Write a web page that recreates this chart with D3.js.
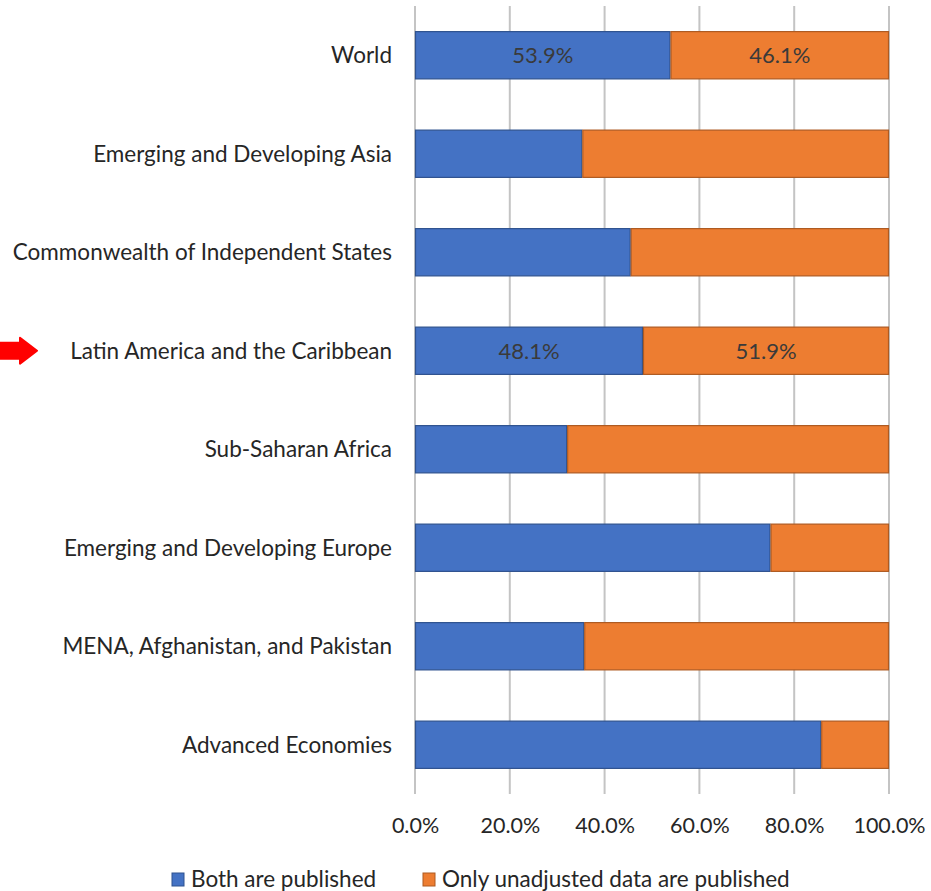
<!DOCTYPE html>
<html>
<head>
<meta charset="utf-8">
<script src="https://cdn.jsdelivr.net/npm/d3@7"></script>
<style>
  html, body { margin: 0; padding: 0; background: #fff; }
  svg { display: block; }
  text { font-family: Lato, "Noto Sans", sans-serif; }
</style>
</head>
<body>
<svg id="chart" width="931" height="891"></svg>
<script>
// Regions, top to bottom
const regions = [
  "World",
  "Emerging and Developing Asia",
  "Commonwealth of Independent States",
  "Latin America and the Caribbean",
  "Sub-Saharan Africa",
  "Emerging and Developing Europe",
  "MENA, Afghanistan, and Pakistan",
  "Advanced Economies"
];
// Share of countries publishing both seasonally adjusted and unadjusted data (%)
const bothPublished = [53.9, 35.3, 45.5, 48.1, 32.1, 75.0, 35.7, 85.7];
// Share publishing only unadjusted data (%)
const onlyUnadjusted = bothPublished.map(v => +(100 - v).toFixed(1));
// Regions whose bars carry value labels
const labelled = ["World", "Latin America and the Caribbean"];
const highlighted = "Latin America and the Caribbean";
const seriesNames = ["Both are published", "Only unadjusted data are published"];
const xTicks = [0, 20, 40, 60, 80, 100];

const fills = ["#4472C4", "#ED7D31"];
const strokes = ["#2F528F", "#AE5A21"];

const svg = d3.select("#chart");
const margin = { left: 415, right: 42, top: 6, bottom: 97 };
const W = 931, H = 891;

const x = d3.scaleLinear().domain([0, 100]).range([margin.left, W - margin.right]);
const y = d3.scaleBand().domain(regions).range([margin.top, H - margin.bottom]).paddingInner(0.51).paddingOuter(0.255);

// vertical gridlines
svg.append("g").selectAll("line").data(xTicks).join("line")
  .attr("x1", d => x(d)).attr("x2", d => x(d))
  .attr("y1", margin.top).attr("y2", H - margin.bottom)
  .attr("stroke", "#C4C4C4").attr("stroke-width", 2);

// stacked bars
const rows = regions.map((r, i) => ({ region: r, vals: [bothPublished[i], onlyUnadjusted[i]] }));
const segs = [];
rows.forEach(row => {
  let acc = 0;
  row.vals.forEach((v, k) => {
    segs.push({ region: row.region, k, x0: acc, x1: acc + v, v });
    acc += v;
  });
});

svg.append("g").selectAll("rect").data(segs).join("rect")
  .attr("x", d => x(d.x0) + 0.5)
  .attr("y", d => y(d.region) + 0.5)
  .attr("width", d => x(d.x1) - x(d.x0) - 1)
  .attr("height", y.bandwidth() - 1)
  .attr("fill", d => fills[d.k])
  .attr("stroke", d => strokes[d.k])
  .attr("stroke-width", 1.2);

// value labels
svg.append("g").selectAll("text")
  .data(segs.filter(d => labelled.includes(d.region)))
  .join("text")
  .attr("x", d => (x(d.x0) + x(d.x1)) / 2)
  .attr("y", d => y(d.region) + y.bandwidth() / 2)
  .attr("dy", "0.36em")
  .attr("text-anchor", "middle")
  .attr("font-size", 22)
  .attr("fill", "#3A3A3A")
  .text(d => d.v.toFixed(1) + "%");

// category axis labels
svg.append("g").selectAll("text").data(regions).join("text")
  .attr("x", 392)
  .attr("y", d => y(d) + y.bandwidth() / 2)
  .attr("dy", "0.36em")
  .attr("text-anchor", "end")
  .attr("font-size", 22.5)
  .attr("fill", "#262626")
  .text(d => d);

// x axis tick labels
const xAxis = d3.axisBottom(x).tickValues(xTicks).tickSize(0).tickPadding(0)
  .tickFormat(d => d.toFixed(1) + "%");
const gx = svg.append("g").attr("transform", `translate(0, ${H - margin.bottom + 24})`).call(xAxis);
gx.select(".domain").remove();
gx.selectAll("text").attr("font-size", 21.5).attr("fill", "#262626")
  .attr("font-family", "Lato, 'Noto Sans', sans-serif");

// legend
const legendX = [172, 423];
const lg = svg.append("g").selectAll("g").data(seriesNames).join("g")
  .attr("transform", (d, i) => `translate(${legendX[i]}, 879)`);
lg.append("rect").attr("x", 0).attr("y", -6).attr("width", 12).attr("height", 13)
  .attr("fill", (d, i) => fills[i]).attr("stroke", (d, i) => strokes[i]).attr("stroke-width", 1);
lg.append("text").attr("x", 19).attr("dy", "0.36em")
  .attr("font-size", 22.5).attr("fill", "#262626").text(d => d);

// pointer arrow next to the highlighted region
const cy = y(highlighted) + y.bandwidth() / 2;
svg.append("path")
  .attr("d", `M0,${cy - 8} L20,${cy - 8} L20,${cy - 13} L37,${cy} L20,${cy + 13} L20,${cy + 8} L0,${cy + 8} Z`)
  .attr("fill", "#FF0000")
  .attr("stroke", "#FF0000")
  .attr("stroke-linejoin", "round")
  .attr("stroke-width", 2);
</script>
</body>
</html>
